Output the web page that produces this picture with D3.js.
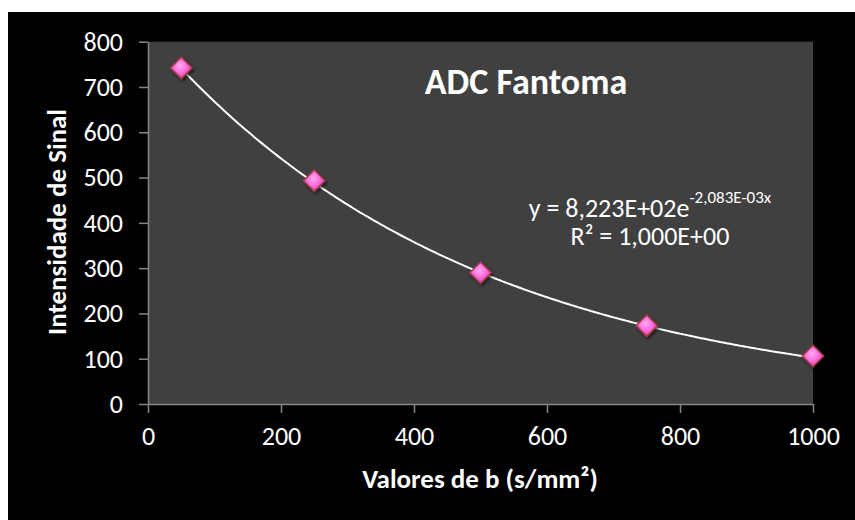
<!DOCTYPE html>
<html>
<head>
<meta charset="utf-8">
<script src="https://cdn.jsdelivr.net/npm/d3@7"></script>
<style>
  body { margin: 0; background: #fff; }
  svg { display: block; font-family: Carlito, Calibri, Lato, sans-serif; }
</style>
</head>
<body>
<div id="chart"></div>
<script>
// data
const bValues = [50, 250, 500, 750, 1000];
const intensidade = [742, 493, 290, 173, 106];
const xTicks = [0, 200, 400, 600, 800, 1000];
const yTicks = [0, 100, 200, 300, 400, 500, 600, 700, 800];
// exponential trendline as printed on the chart
const fitA = 822.3;
const fitK = -0.002083;

const drawChart = id => {
    const width = 855;
    const height = 520;
    const plot = { left: 148, right: 813, top: 41.7, bottom: 404 };

    const svg = d3.select(id)
        .append("svg")
        .attr("width", width)
        .attr("height", height);

    const defs = svg.append("defs");
    const grad = defs.append("radialGradient")
        .attr("id", "pink")
        .attr("cx", "45%").attr("cy", "40%").attr("r", "60%");
    grad.append("stop").attr("offset", "0%").attr("stop-color", "#ffa8f4");
    grad.append("stop").attr("offset", "60%").attr("stop-color", "#f866d8");
    grad.append("stop").attr("offset", "100%").attr("stop-color", "#e0409c");

    const shadow = defs.append("filter").attr("id", "shadow")
        .attr("x", "-50%").attr("y", "-50%").attr("width", "200%").attr("height", "200%");
    shadow.append("feDropShadow")
        .attr("dx", 1.5).attr("dy", 2).attr("stdDeviation", 1.5)
        .attr("flood-color", "#000").attr("flood-opacity", 0.6);

    svg.append("rect")
        .attr("x", 8).attr("y", 12)
        .attr("width", width - 8).attr("height", height - 12)
        .attr("fill", "#000");

    const x = d3.scaleLinear().domain([0, 1000]).range([plot.left, plot.right]);
    const y = d3.scaleLinear().domain([0, 800]).range([plot.bottom, plot.top]);

    svg.append("rect")
        .attr("x", plot.left).attr("y", plot.top)
        .attr("width", plot.right - plot.left)
        .attr("height", plot.bottom - plot.top)
        .attr("fill", "#404040");

    const xAxis = svg.append("g")
        .attr("transform", `translate(0,${plot.bottom})`)
        .call(d3.axisBottom(x).tickValues(xTicks).tickFormat(d3.format("d"))
            .tickSize(9).tickSizeOuter(0).tickPadding(12));
    const yAxis = svg.append("g")
        .attr("transform", `translate(${plot.left},0)`)
        .call(d3.axisLeft(y).tickValues(yTicks).tickFormat(d3.format("d"))
            .tickSize(9).tickSizeOuter(0).tickPadding(16));

    [xAxis, yAxis].forEach(ax => {
        ax.select(".domain").attr("stroke", "#868686").attr("stroke-width", 1.5);
        ax.selectAll(".tick line").attr("stroke", "#868686").attr("stroke-width", 1.5);
        ax.selectAll(".tick text")
            .attr("fill", "#fff")
            .style("font-size", "26px")
            .style("font-family", "Carlito, Calibri, Lato, sans-serif");
    });
    xAxis.selectAll(".tick text").attr("dy", "0.75em");

    // trendline
    const fitLine = d3.line()
        .x(d => x(d))
        .y(d => y(fitA * Math.exp(fitK * d)))
        .curve(d3.curveBasis);
    const fitX = d3.range(bValues[0], bValues[bValues.length - 1] + 1, 5);
    svg.append("path")
        .attr("d", fitLine(fitX))
        .attr("fill", "none")
        .attr("stroke", "#fff")
        .attr("stroke-width", 2);

    // markers
    const diamond = d3.symbol().type(d3.symbolDiamond2).size(290);
    svg.selectAll(".pt")
        .data(bValues)
        .join("path")
        .attr("class", "pt")
        .attr("d", diamond)
        .attr("transform", (d, i) => `translate(${x(d)},${y(intensidade[i])})`)
        .attr("fill", "url(#pink)")
        .attr("stroke", "#a83c48")
        .attr("stroke-width", 1.5)
        .attr("filter", "url(#shadow)");

    svg.append("text")
        .attr("x", 526).attr("y", 94)
        .attr("text-anchor", "middle")
        .attr("fill", "#fff")
        .style("font-size", "36px")
        .style("font-weight", "bold")
        .text("ADC Fantoma");

    const eq = svg.append("text")
        .attr("x", 650).attr("y", 217)
        .attr("text-anchor", "middle")
        .attr("fill", "#fff")
        .style("font-size", "26px");
    eq.append("tspan").text("y = 8,223E+02e");
    eq.append("tspan").attr("dy", -14).style("font-size", "17px").text("-2,083E-03x");

    svg.append("text")
        .attr("x", 650).attr("y", 245)
        .attr("text-anchor", "middle")
        .attr("fill", "#fff")
        .style("font-size", "26px")
        .text("R² = 1,000E+00");

    svg.append("text")
        .attr("x", 480).attr("y", 488)
        .attr("text-anchor", "middle")
        .attr("fill", "#fff")
        .style("font-size", "27px")
        .style("font-weight", "bold")
        .text("Valores de b (s/mm²)");

    svg.append("text")
        .attr("transform", "translate(66,222) rotate(-90)")
        .attr("text-anchor", "middle")
        .attr("fill", "#fff")
        .style("font-size", "27px")
        .style("font-weight", "bold")
        .text("Intensidade de Sinal");
}

drawChart("#chart");
</script>
</body>
</html>
